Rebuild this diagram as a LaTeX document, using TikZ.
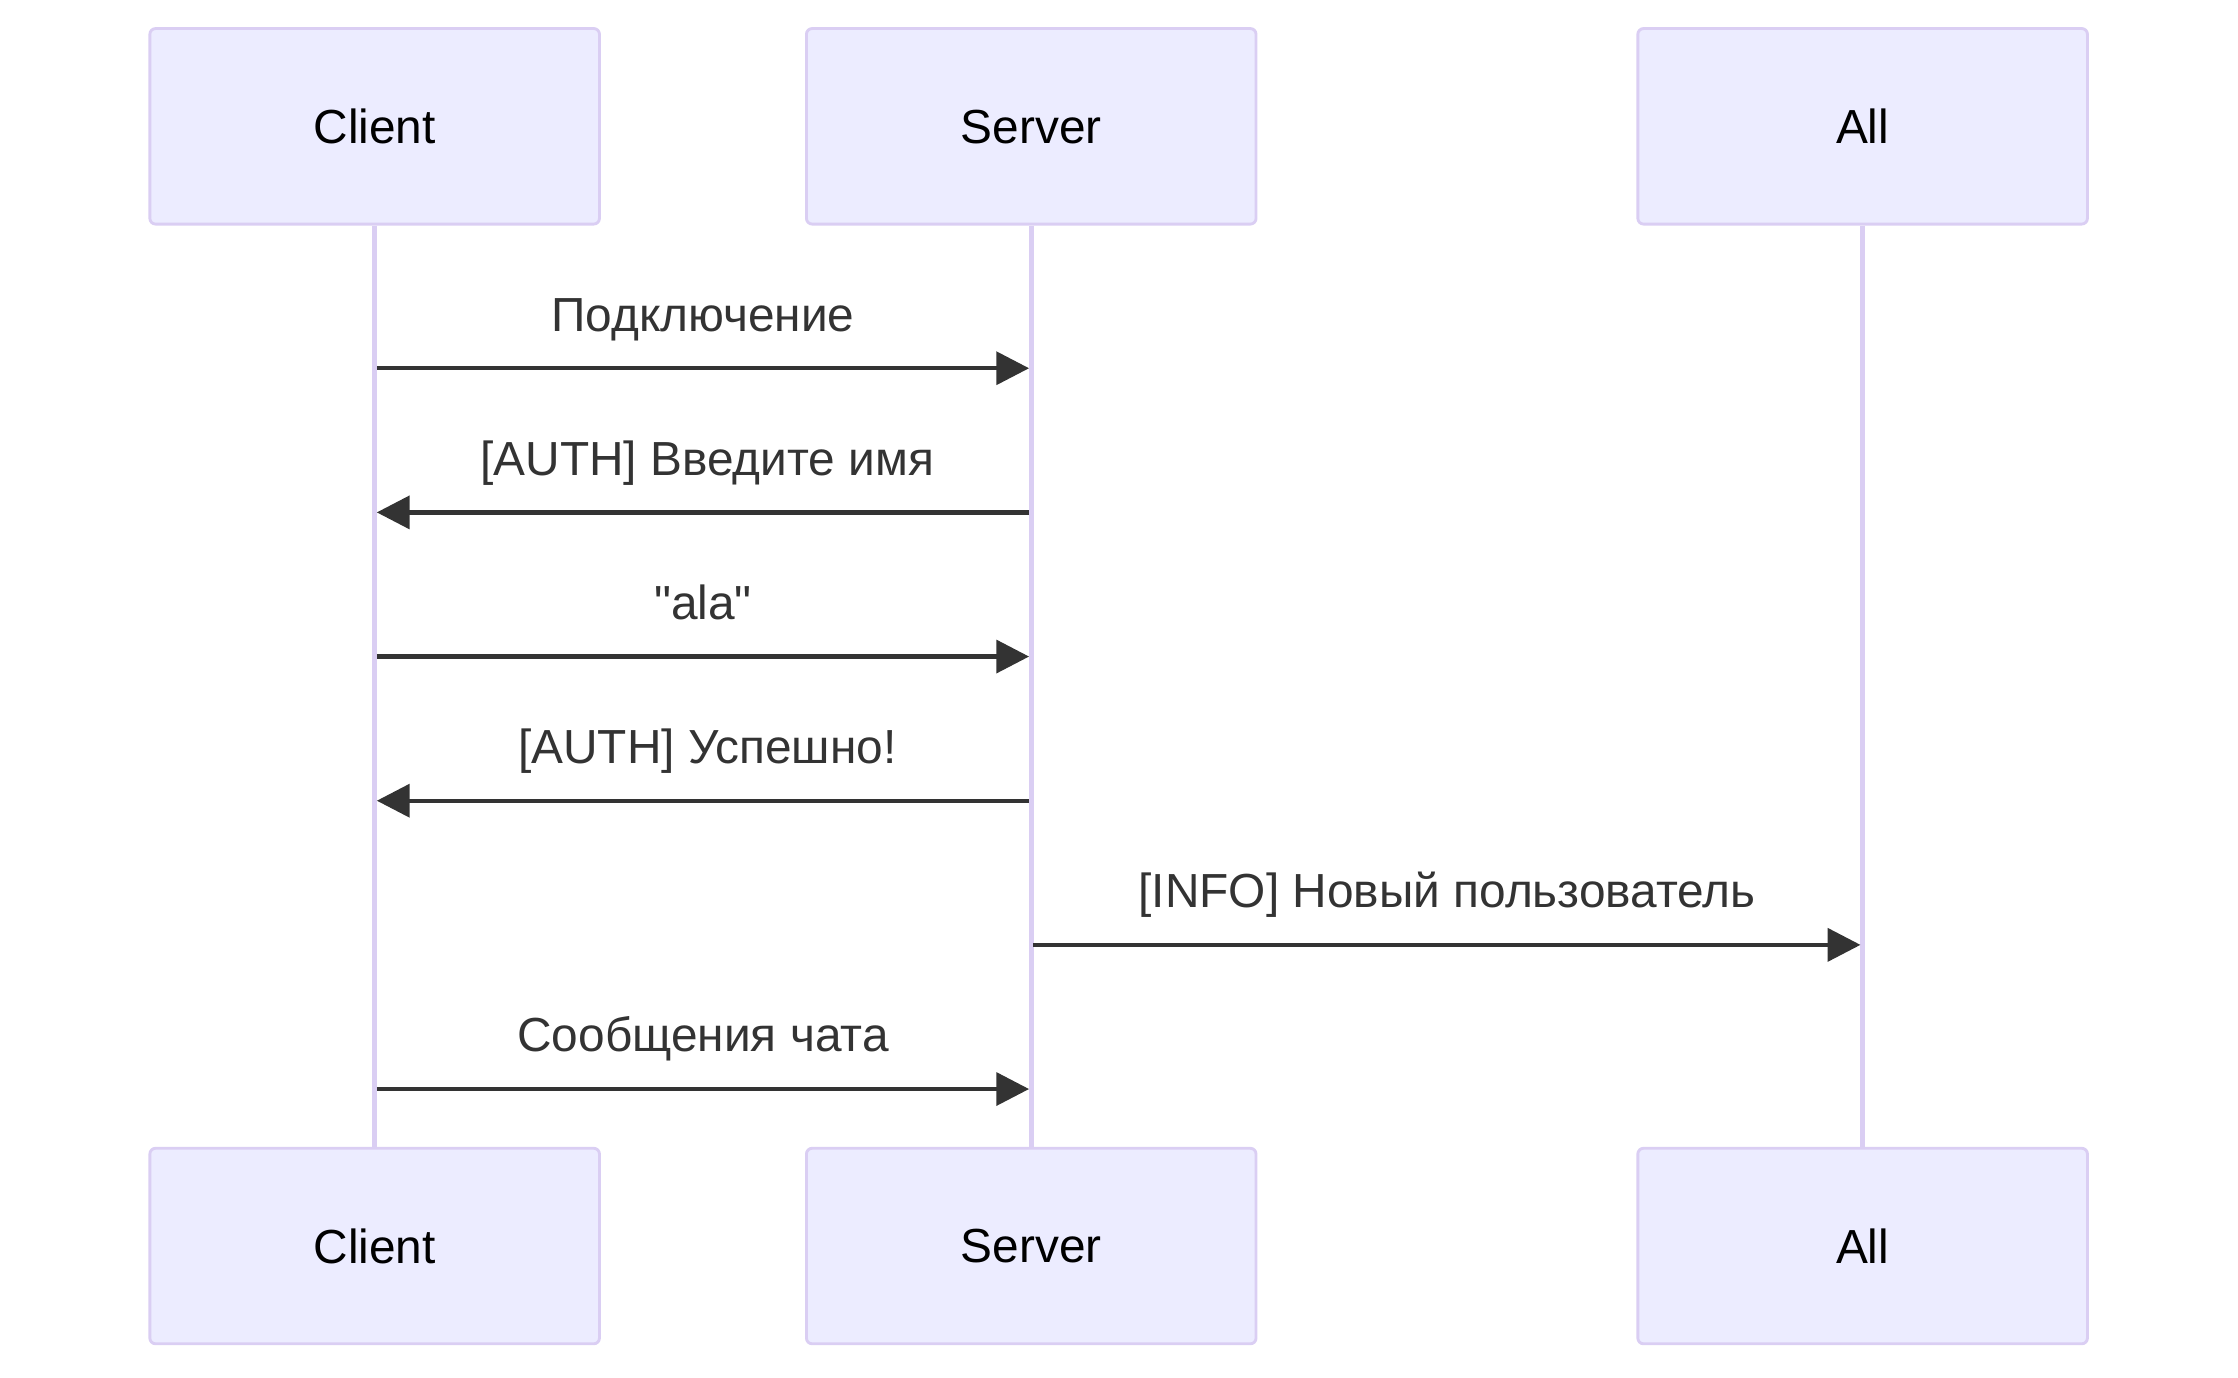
\documentclass[tikz,border=0pt]{standalone}
\usepackage{fontspec}
\setmainfont{Liberation Sans}[Ligatures=TeXOff]
\usetikzlibrary{arrows.meta}
\definecolor{custcol_ec_ec_ff}{RGB}{236, 236, 255}
\definecolor{custcol_da_ce_f3}{RGB}{218, 206, 243}
\definecolor{custcol_33_33_33}{RGB}{51, 51, 51}

\begin{document}
\begin{tikzpicture}[x=1pt,y=-1pt,line cap=butt,
	actorbox/.style={draw=custcol_da_ce_f3, fill=custcol_ec_ec_ff, line width=2.0pt, rounded corners=4pt, minimum width=315pt, minimum height=137pt, inner sep=0pt, text depth=0pt, font=\fontsize{33.5pt}{33.5pt}\selectfont},
	lifeline/.style={draw=custcol_da_ce_f3, line width=3.5pt},
	msg/.style={draw=custcol_33_33_33, line width=3.0pt, shorten >=1.5pt, shorten <=1.5pt, -{Triangle[length=23pt,width=23pt]}},
	msglabel/.style={inner sep=0, outer sep=0, custcol_33_33_33, anchor=base, yshift=26pt, font=\fontsize{33.5pt}{33.5pt}\selectfont}]
	\useasboundingbox (0.0,0.0) rectangle (1568.0,965.0);
	% actors, top and bottom
	\node[actorbox] (clientTop) at (262.5,88.5) {Client};
	\node[actorbox] (serverTop) at (722.5,88.5) {Server};
	\node[actorbox] (allTop) at (1305.0,88.5) {All};
	\node[actorbox] (clientBot) at (262.5,873.0) {Client};
	\node[actorbox] (serverBot) at (722.5,873.0) {Server};
	\node[actorbox] (allBot) at (1305.0,873.0) {All};
	% lifelines
	\draw[lifeline] (clientTop.south) -- (clientBot.north);
	\draw[lifeline] (serverTop.south) -- (serverBot.north);
	\draw[lifeline] (allTop.south) -- (allBot.north);
	% message rows
	\coordinate (row1) at (0.0,258.0);
	\coordinate (row2) at (0.0,359.0);
	\coordinate (row3) at (0.0,460.0);
	\coordinate (row4) at (0.0,561.0);
	\coordinate (row5) at (0.0,662.0);
	\coordinate (row6) at (0.0,763.0);
	\draw[msg] (clientTop |- row1) -- node[msglabel, midway] {Подключение} (serverTop |- row1);
	\draw[msg] (serverTop |- row2) -- node[msglabel, midway, xshift=3pt] {[AUTH] Введите имя} (clientTop |- row2);
	\draw[msg] (clientTop |- row3) -- node[msglabel, midway] {"ala"} (serverTop |- row3);
	\draw[msg] (serverTop |- row4) -- node[msglabel, midway, xshift=3pt] {[AUTH] Успешно!} (clientTop |- row4);
	\draw[msg] (serverTop |- row5) -- node[msglabel, midway] {[INFO] Новый пользователь} (allTop |- row5);
	\draw[msg] (clientTop |- row6) -- node[msglabel, midway] {Сообщения чата} (serverTop |- row6);
\end{tikzpicture}
\end{document}
